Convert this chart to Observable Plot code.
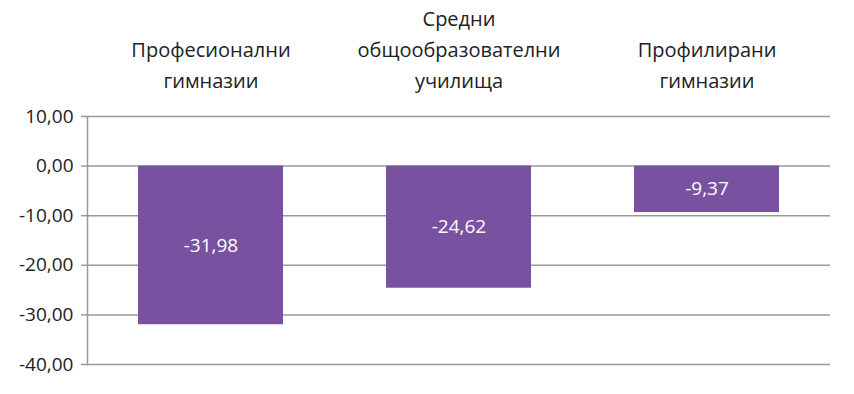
<!DOCTYPE html>
<html>
<head>
<meta charset="utf-8">
<script src="https://cdn.jsdelivr.net/npm/d3@7"></script>
<script src="https://cdn.jsdelivr.net/npm/@observablehq/plot@0.6"></script>
<style>
  html, body { margin: 0; padding: 0; background: #fff; }
  #chart svg { display: block; }
</style>
</head>
<body>
<div id="chart"></div>
<script>
const categories = ["Професионални\nгимназии", "Средни\nобщообразователни\nучилища", "Профилирани\nгимназии"];
const values = [-31.98, -24.62, -9.37];
const yTicks = [10, 0, -10, -20, -30, -40];

const data = categories.map((c, i) => ({category: c, value: values[i]}));
const fmt = v => v.toFixed(2).replace(".", ",");

const chart = Plot.plot({
  width: 854,
  height: 394,
  marginTop: 116,
  marginBottom: 30,
  marginLeft: 87,
  marginRight: 24,
  style: {fontFamily: "'Open Sans', sans-serif", fontSize: "19px", color: "#222", background: "#fff"},
  x: {domain: categories, paddingInner: 0.415, paddingOuter: 0.2, label: null, axis: null},
  y: {domain: [-40, 10], label: null, axis: null},
  marks: [
    Plot.ruleY(yTicks, {stroke: "#999", strokeWidth: 1.5}),
    Plot.axisY({ticks: yTicks, tickFormat: fmt, tickSize: 6, tickPadding: 8, stroke: "#999", strokeWidth: 1.5, fill: "#222", fontSize: 19, label: null}),
    Plot.frame({anchor: "left", stroke: "#999", strokeWidth: 1.5}),
    Plot.barY(data, {x: "category", y: "value", fill: "#7851A0"}),
    Plot.text(data, {x: "category", y: d => d.value / 2, text: d => fmt(d.value), fill: "white", fontSize: 19}),
    Plot.axisX({anchor: "top", tickSize: 0, tickPadding: 29, lineHeight: 1.55, fontSize: 20, fill: "#222", label: null})
  ]
});
document.getElementById("chart").append(chart);
</script>
</body>
</html>
